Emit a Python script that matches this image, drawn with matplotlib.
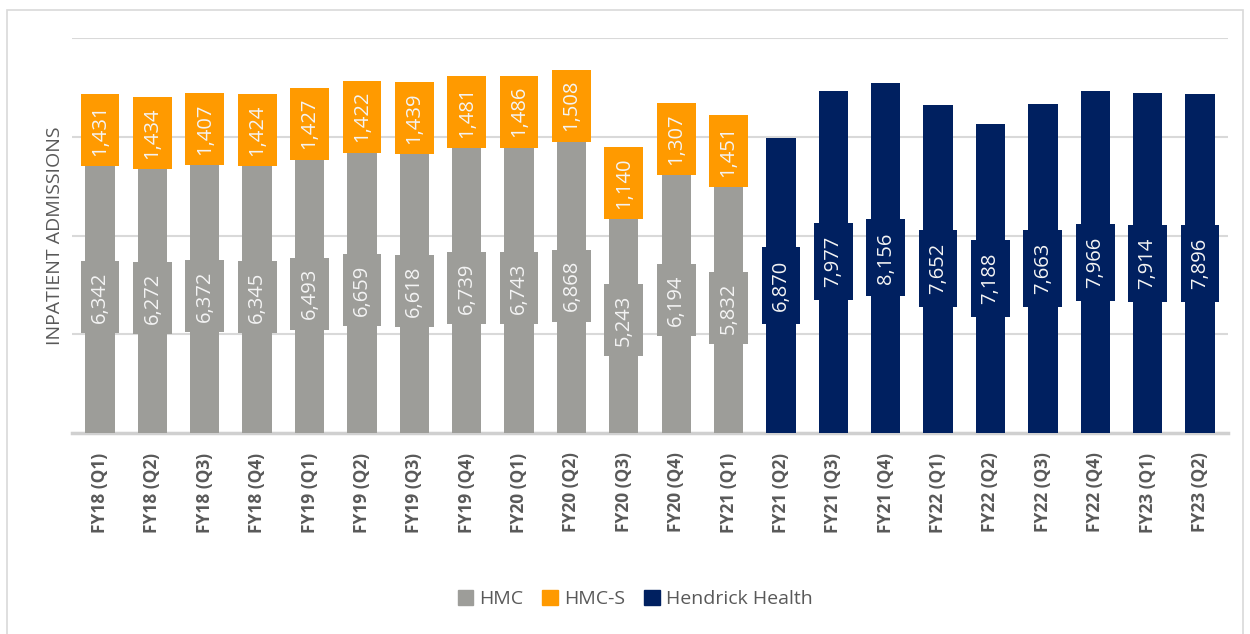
import numpy as np
import matplotlib.pyplot as plt
from matplotlib.patches import Rectangle, Patch

plt.rcParams['font.family'] = ['Open Sans', 'DejaVu Sans']

quarters = ["FY18 (Q1)", "FY18 (Q2)", "FY18 (Q3)", "FY18 (Q4)",
            "FY19 (Q1)", "FY19 (Q2)", "FY19 (Q3)", "FY19 (Q4)",
            "FY20 (Q1)", "FY20 (Q2)", "FY20 (Q3)", "FY20 (Q4)",
            "FY21 (Q1)", "FY21 (Q2)", "FY21 (Q3)", "FY21 (Q4)",
            "FY22 (Q1)", "FY22 (Q2)", "FY22 (Q3)", "FY22 (Q4)",
            "FY23 (Q1)", "FY23 (Q2)"]
hmc = [6342, 6272, 6372, 6345, 6493, 6659, 6618, 6739, 6743, 6868, 5243, 6194, 5832]
hmc_s = [1431, 1434, 1407, 1424, 1427, 1422, 1439, 1481, 1486, 1508, 1140, 1307, 1451]
hendrick = [6870, 7977, 8156, 7652, 7188, 7663, 7966, 7914, 7896]

c_grey = '#9d9d99'
c_orange = '#ff9a00'
c_navy = '#002060'
c_text = '#595959'

fig = plt.figure(figsize=(12.5, 6.34), dpi=100)
ax = fig.add_axes([0.0576, 0.317, 0.9248, 0.623])

# chart frame
fig.patches.append(Rectangle((0.0056, -0.01), 0.989, 0.995, transform=fig.transFigure,
                             fill=False, edgecolor='#d9d9d9', linewidth=1.2))

n_old = len(hmc)
x_old = np.arange(n_old)
x_new = np.arange(n_old, n_old + len(hendrick))
bw = 0.56
ymax = 9200

ax.bar(x_old, hmc, width=bw, color=c_grey, zorder=2)
ax.bar(x_old, hmc_s, bottom=hmc, width=bw, color=c_orange, zorder=2)
ax.bar(x_new, hendrick, width=bw, color=c_navy, zorder=2)

box_w = 0.74
box_h = ymax * 72 / 395


def label(x, yc, val, color, h=box_h):
    ax.add_patch(Rectangle((x - box_w / 2, yc - h / 2), box_w, h,
                           facecolor=color, edgecolor='none', zorder=3))
    ax.text(x, yc, f"{val:,}", rotation=90, ha='center', va='center',
            color='#f4f4f4', fontsize=14.5, zorder=4)


for x, a, b in zip(x_old, hmc, hmc_s):
    label(x, a / 2, a, c_grey)
    label(x, a + b / 2, b, c_orange)
for x, v in zip(x_new, hendrick):
    label(x, v / 2, v, c_navy, h=box_h * 77 / 72)

ax.set_xlim(-0.535, len(quarters) - 1 + 0.535)
ax.set_ylim(0, ymax)
ax.set_yticks(np.arange(0, ymax + 1, 2300))
ax.set_yticklabels([])
ax.tick_params(axis='y', length=0)
ax.tick_params(axis='x', length=0, pad=14)
ax.set_xticks(np.arange(len(quarters)))
ax.set_xticklabels(quarters, rotation=90, fontsize=12.5, color=c_text, fontweight='bold')
ax.grid(axis='y', color='#d9d9d9', linewidth=1.5, zorder=0)
ax.set_axisbelow(True)
for s in ['top', 'right', 'left']:
    ax.spines[s].set_visible(False)
ax.spines['bottom'].set_color('#d0d0d0')
ax.spines['bottom'].set_linewidth(2.5)
ax.spines['bottom'].set_zorder(1)

ax.set_ylabel("INPATIENT ADMISSIONS", fontsize=14, color=c_text, labelpad=2)

handles = [Patch(color=c_grey, label='HMC'), Patch(color=c_orange, label='HMC-S'),
           Patch(color=c_navy, label='Hendrick Health')]
fig.legend(handles=handles, loc='center', bbox_to_anchor=(0.508, 0.055), ncol=3,
           frameon=False, fontsize=14, handlelength=0.8, handleheight=0.8,
           handletextpad=0.3, columnspacing=1.0, labelcolor=c_text)

plt.savefig('out.png')
